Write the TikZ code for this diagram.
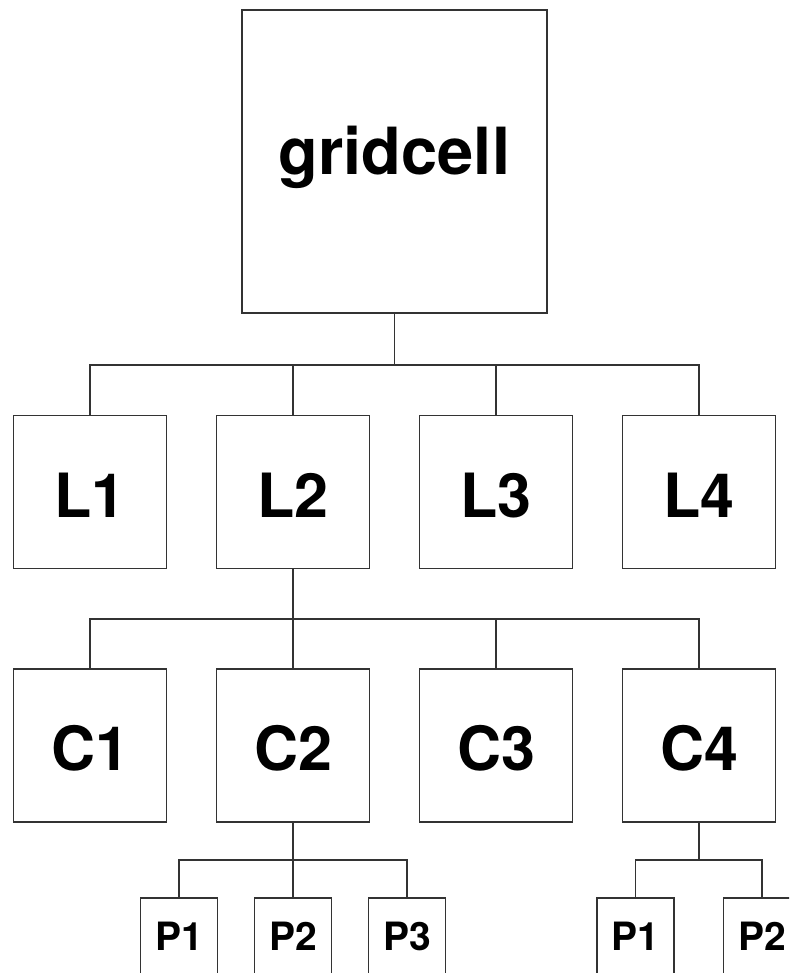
\documentclass[tikz,border=0pt]{standalone}
\usepackage{fontspec}
\setmainfont{TeX Gyre Heros}
\begin{document}
\begin{tikzpicture}[x=1pt,y=-1pt,
  box/.style={draw=black!80, line width=1.8pt, fill=white, inner sep=0pt, font=\bfseries},
  bigbox/.style={box, minimum width=305pt, minimum height=303pt, text height=47pt, text depth=20pt, font=\bfseries\fontsize{65}{65}\selectfont},
  midbox/.style={box, minimum width=153pt, minimum height=153pt, text height=50pt, text depth=0pt, font=\bfseries\fontsize{61}{61}\selectfont},
  smallbox/.style={box, minimum width=77pt, minimum height=77pt, font=\bfseries\fontsize{39}{39}\selectfont},
  link/.style={draw=black!80, line width=1.8pt}]
\useasboundingbox (0,0) rectangle (789,973);
\clip (0,0) rectangle (789,973);
% nodes
\node[bigbox] (g) at (394.5,161.5) {gridcell};
\node[midbox] (L1) at (90,492) {L1};
\node[midbox] (L2) at (293,492) {L2};
\node[midbox] (L3) at (496,492) {L3};
\node[midbox] (L4) at (699,492) {L4};
\node[midbox] (C1) at (90,745.5) {C1};
\node[midbox] (C2) at (293,745.5) {C2};
\node[midbox] (C3) at (496,745.5) {C3};
\node[midbox] (C4) at (699,745.5) {C4};
\node[smallbox] (P1) at (179,936.5) {P1};
\node[smallbox] (P2) at (293,936.5) {P2};
\node[smallbox] (P3) at (407,936.5) {P3};
\node[smallbox] (Q1) at (635.5,936.5) {P1};
\node[smallbox] (Q2) at (762,936.5) {P2};
% junctions
\coordinate (j1) at (394.5,365);
\coordinate (j2) at (293,619);
\coordinate (j3) at (293,860);
\coordinate (j4) at (699,860);
% connectors
\draw[link] (g.south) -- (j1);
\foreach \n in {L1,L2,L3,L4} \draw[link] (j1) -| (\n.north);
\draw[link] (L2.south) -- (j2);
\foreach \n in {C1,C2,C3,C4} \draw[link] (j2) -| (\n.north);
\draw[link] (C2.south) -- (j3);
\foreach \n in {P1,P2,P3} \draw[link] (j3) -| (\n.north);
\draw[link] (C4.south) -- (j4);
\foreach \n in {Q1,Q2} \draw[link] (j4) -| (\n.north);
\end{tikzpicture}
\end{document}
